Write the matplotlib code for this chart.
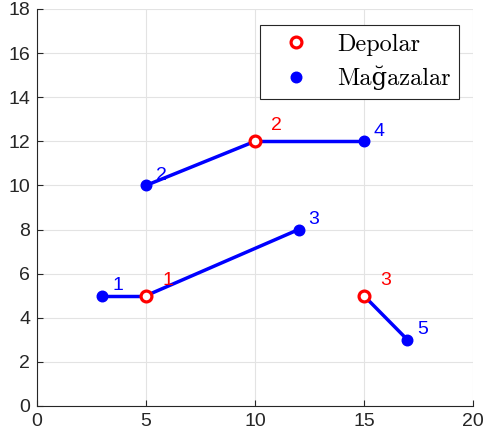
import numpy as np
import matplotlib.pyplot as plt

# depots and stores (x, y)
depot_x = [5, 10, 15]
depot_y = [5, 12, 5]
store_x = [3, 5, 12, 15, 17]
store_y = [5, 10, 8, 12, 3]
# store index -> depot index it is assigned to
assign = [0, 1, 0, 1, 2]

plt.rcParams['font.family'] = ['Liberation Sans', 'DejaVu Sans']

fig = plt.figure(figsize=(4.85, 4.41), dpi=100)
ax = fig.add_axes([0.0763, 0.0794, 0.8987, 0.9002])

for i in range(len(store_x)):
    d = assign[i]
    ax.plot([depot_x[d], store_x[i]], [depot_y[d], store_y[i]],
            color='blue', lw=2.5, zorder=2, solid_capstyle='butt')

ax.plot(depot_x, depot_y, 'o', ms=7.8, mfc='white', mec='red', mew=2.3,
        ls='none', label='Depolar', zorder=4)
ax.plot(store_x, store_y, 'o', ms=7.6, color='blue', ls='none',
        label='Mağazalar', zorder=3)

for i in range(len(store_x)):
    ax.text(store_x[i] + 0.45, store_y[i] + 0.45, str(i + 1), color='blue',
            fontsize=14, ha='left', va='center', zorder=5)
for i in range(len(depot_x)):
    ax.text(depot_x[i] + 0.75, depot_y[i] + 0.7, str(i + 1), color='red',
            fontsize=14, ha='left', va='center', zorder=5)

ax.set_xlim(0, 20)
ax.set_ylim(0, 18)
ax.set_xticks(np.arange(0, 21, 5))
ax.set_yticks(np.arange(0, 19, 2))
ax.grid(True, color='#e3e3e3', lw=0.8)
ax.set_axisbelow(True)
for s in ['top', 'right']:
    ax.spines[s].set_visible(False)
for s in ['left', 'bottom']:
    ax.spines[s].set_color('#262626')
    ax.spines[s].set_linewidth(0.8)
ax.tick_params(direction='in', length=4, colors='#262626', labelsize=14,
               width=0.8, pad=5)

leg = ax.legend(loc='upper right', bbox_to_anchor=(0.968, 0.96),
                borderaxespad=0,
                prop={'family': ['cmr10', 'DejaVu Serif'], 'size': 17.5},
                fancybox=False, edgecolor='#262626', framealpha=1,
                borderpad=0.35, handletextpad=0.6, labelspacing=0.42,
                handlelength=2.2)
leg.get_frame().set_linewidth(0.8)

fig.savefig('out.png', dpi=100)
